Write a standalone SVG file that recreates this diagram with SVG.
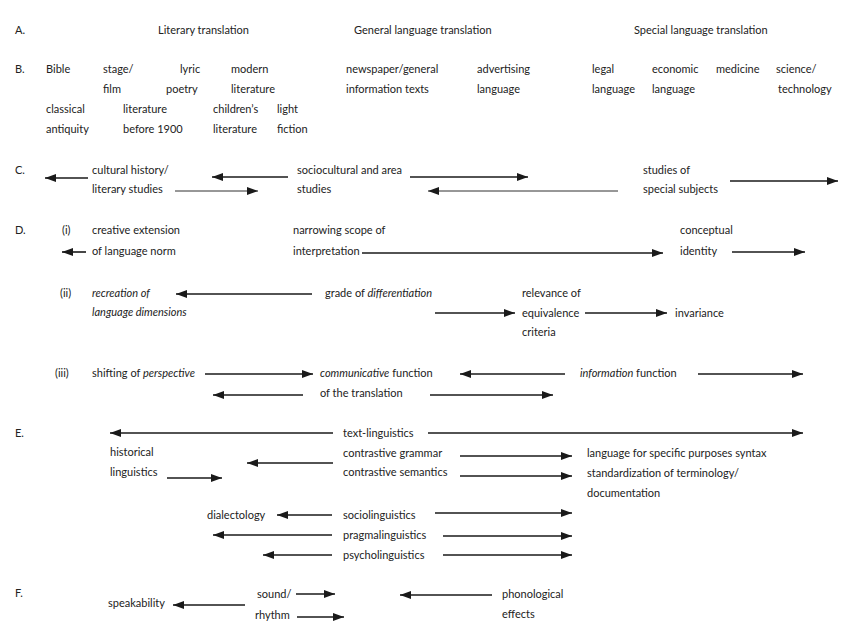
<svg xmlns="http://www.w3.org/2000/svg" width="848" height="636" viewBox="0 0 848 636">
<style>
text{font-family:Lato,"Liberation Sans",sans-serif;font-size:11px;fill:#222}
.it{font-style:italic}
.c line{stroke:#1a1a1a;stroke-width:1.6}
.c line.thin{stroke-width:0.9}
</style>
<defs>
<marker id="ah" markerUnits="userSpaceOnUse" markerWidth="12" markerHeight="8" refX="11" refY="4" orient="auto"><path d="M0,0 L11,4 L0,8 Z" fill="#1a1a1a"/></marker>
</defs>
<rect width="848" height="636" fill="#fff"/>
<g id="rowA">
<text x="15" y="34">A.</text>
<text x="158" y="34">Literary translation</text>
<text x="354" y="34">General language translation</text>
<text x="634" y="34">Special language translation</text>
</g>
<g id="rowB">
<text x="15" y="73">B.</text>
<text x="46" y="73">Bible</text>
<text x="103" y="73">stage/</text><text x="103" y="93">film</text>
<text x="180" y="73">lyric</text><text x="166" y="93">poetry</text>
<text x="231" y="73">modern</text><text x="231" y="93">literature</text>
<text x="346" y="73">newspaper/general</text><text x="346" y="93">information texts</text>
<text x="477" y="73">advertising</text><text x="477" y="93">language</text>
<text x="592" y="73">legal</text><text x="592" y="93">language</text>
<text x="652" y="73">economic</text><text x="652" y="93">language</text>
<text x="716" y="73">medicine</text>
<text x="776" y="73">science/</text><text x="778" y="93">technology</text>
<text x="46" y="113">classical</text><text x="46" y="133">antiquity</text>
<text x="123" y="113">literature</text><text x="123" y="133">before 1900</text>
<text x="213" y="113">children’s</text><text x="213" y="133">literature</text>
<text x="277" y="113">light</text><text x="277" y="133">fiction</text>
</g>
<g id="rowC">
<text x="15" y="174">C.</text>
<text x="92" y="174">cultural history/</text><text x="92" y="193">literary studies</text>
<text x="297" y="174">sociocultural and area</text><text x="297" y="193">studies</text>
<text x="643" y="174">studies of</text><text x="643" y="193">special subjects</text>
</g>
<g id="rowD1">
<text x="15" y="234">D.</text>
<text x="62" y="234">(i)</text>
<text x="92" y="234">creative extension</text><text x="92" y="255">of language norm</text>
<text x="293" y="234">narrowing scope of</text><text x="293" y="255">interpretation</text>
<text x="680" y="234">conceptual</text><text x="680" y="255">identity</text>
</g>
<g id="rowD2">
<text x="60" y="297">(ii)</text>
<text x="92" y="297" class="it">recreation of</text><text x="92" y="316" class="it">language dimensions</text>
<text x="325" y="297">grade of <tspan class="it">differentiation</tspan></text>
<text x="522" y="297">relevance of</text><text x="522" y="317">equivalence</text><text x="522" y="336">criteria</text>
<text x="675" y="317">invariance</text>
</g>
<g id="rowD3">
<text x="55" y="377">(iii)</text>
<text x="92" y="377">shifting of <tspan class="it">perspective</tspan></text>
<text x="320" y="377"><tspan class="it">communicative</tspan> function</text><text x="320" y="397">of the translation</text>
<text x="580" y="377"><tspan class="it">information</tspan> function</text>
</g>
<g id="rowE">
<text x="15" y="437">E.</text>
<text x="343" y="437">text-linguistics</text>
<text x="110" y="456">historical</text><text x="110" y="476">linguistics</text>
<text x="343" y="457">contrastive grammar</text><text x="343" y="476">contrastive semantics</text>
<text x="587" y="457">language for specific purposes syntax</text>
<text x="587" y="477">standardization of terminology/</text>
<text x="587" y="497">documentation</text>
<text x="207" y="519">dialectology</text>
<text x="343" y="519">sociolinguistics</text>
<text x="343" y="539">pragmalinguistics</text>
<text x="343" y="559">psycholinguistics</text>
</g>
<g id="rowF">
<text x="15" y="597">F.</text>
<text x="108" y="607">speakability</text>
<text x="257" y="598">sound/</text><text x="255" y="619">rhythm</text>
<text x="502" y="598">phonological</text><text x="502" y="618">effects</text>
</g>
<g id="connectors" class="c">
<line x1="88" y1="178" x2="45" y2="178" marker-end="url(#ah)"/>
<line class="thin" x1="175" y1="191" x2="258" y2="191" marker-end="url(#ah)"/>
<line x1="288" y1="177" x2="212" y2="177" marker-end="url(#ah)"/>
<line x1="410" y1="177" x2="528" y2="177" marker-end="url(#ah)"/>
<line class="thin" x1="618" y1="191" x2="428" y2="191" marker-end="url(#ah)"/>
<line x1="730" y1="181" x2="838" y2="181" marker-end="url(#ah)"/>
<line x1="86" y1="252" x2="62" y2="252" marker-end="url(#ah)"/>
<line x1="362" y1="253" x2="663" y2="253" marker-end="url(#ah)"/>
<line x1="732" y1="252" x2="805" y2="252" marker-end="url(#ah)"/>
<line x1="312" y1="294" x2="176" y2="294" marker-end="url(#ah)"/>
<line x1="435" y1="313" x2="515" y2="313" marker-end="url(#ah)"/>
<line x1="585" y1="313" x2="667" y2="313" marker-end="url(#ah)"/>
<line x1="205" y1="374" x2="313" y2="374" marker-end="url(#ah)"/>
<line x1="565" y1="374" x2="460" y2="374" marker-end="url(#ah)"/>
<line x1="698" y1="374" x2="803" y2="374" marker-end="url(#ah)"/>
<line x1="303" y1="395" x2="213" y2="395" marker-end="url(#ah)"/>
<line x1="430" y1="395" x2="553" y2="395" marker-end="url(#ah)"/>
<line x1="333" y1="433" x2="110" y2="433" marker-end="url(#ah)"/>
<line x1="428" y1="433" x2="803" y2="433" marker-end="url(#ah)"/>
<line x1="167" y1="478" x2="222" y2="478" marker-end="url(#ah)"/>
<line x1="333" y1="463" x2="247" y2="463" marker-end="url(#ah)"/>
<line x1="460" y1="456" x2="572" y2="456" marker-end="url(#ah)"/>
<line x1="460" y1="476" x2="572" y2="476" marker-end="url(#ah)"/>
<line x1="332" y1="515" x2="277" y2="515" marker-end="url(#ah)"/>
<line x1="435" y1="513" x2="572" y2="513" marker-end="url(#ah)"/>
<line x1="332" y1="535" x2="213" y2="535" marker-end="url(#ah)"/>
<line x1="443" y1="536" x2="572" y2="536" marker-end="url(#ah)"/>
<line x1="332" y1="555" x2="263" y2="555" marker-end="url(#ah)"/>
<line x1="443" y1="555" x2="572" y2="555" marker-end="url(#ah)"/>
<line x1="245" y1="605" x2="173" y2="605" marker-end="url(#ah)"/>
<line x1="296" y1="594" x2="335" y2="594" marker-end="url(#ah)"/>
<line x1="297" y1="617" x2="344" y2="617" marker-end="url(#ah)"/>
<line x1="492" y1="595" x2="400" y2="595" marker-end="url(#ah)"/>
</g>
</svg>
